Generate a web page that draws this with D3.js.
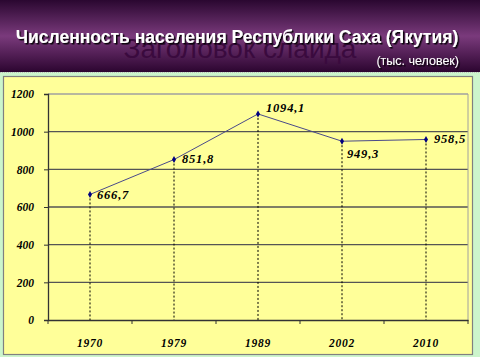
<!DOCTYPE html>
<html><head><meta charset="utf-8">
<script src="https://cdn.jsdelivr.net/npm/d3@7/dist/d3.min.js"></script>
<style>body{margin:0;padding:0;overflow:hidden;background:#ccf5cc}</style>
</head><body>
<script>
const years = ["1970","1979","1989","2002","2010"];
const population = [666.7, 851.8, 1094.1, 949.3, 958.5];
const valueLabels = ["666,7","851,8","1094,1","949,3","958,5"];
const yTicks = [0,200,400,600,800,1000,1200];
const titleText = "Численность населения Республики Саха (Якутия)";
const ghostText = "Заголовок слайда";
const unitText = "(тыс. человек)";

const W=480,H=357;
const svg=d3.select("body").append("svg").attr("width",W).attr("height",H);
const defs=svg.append("defs");
const g1=defs.append("linearGradient").attr("id","hdr").attr("x1",0).attr("y1",0).attr("x2",0).attr("y2",1);
g1.append("stop").attr("offset","0%").attr("stop-color","#2a0730");
g1.append("stop").attr("offset","50%").attr("stop-color","#7a3a7c");
g1.append("stop").attr("offset","100%").attr("stop-color","#2c0530");
const f=defs.append("filter").attr("id","sh").attr("x","-5%").attr("y","-20%").attr("width","110%").attr("height","160%");
f.append("feDropShadow").attr("dx",1.5).attr("dy",1.5).attr("stdDeviation",0.6).attr("flood-color","#000").attr("flood-opacity",0.9);

svg.append("rect").attr("width",W).attr("height",H).attr("fill","#ccf5cc");
svg.append("rect").attr("width",W).attr("height",72).attr("fill","url(#hdr)");
svg.append("line").attr("x1",0).attr("x2",W).attr("y1",72.5).attr("y2",72.5).attr("stroke","#bbb").attr("stroke-dasharray","1,1");

svg.append("text").attr("x",240).attr("y",58).attr("text-anchor","middle")
  .attr("font-family","Liberation Sans, Arial").attr("font-size",28).attr("fill","#3a0a3e").text(ghostText);
svg.append("text").attr("x",237).attr("y",43).attr("text-anchor","middle")
  .attr("font-family","Liberation Sans, Arial").attr("font-weight","bold").attr("font-size",17.5)
  .attr("fill","#fff").attr("filter","url(#sh)").text(titleText);
svg.append("text").attr("x",459).attr("y",65).attr("text-anchor","end")
  .attr("font-family","Liberation Sans, Arial").attr("font-size",12.5)
  .attr("fill","#fff").attr("filter","url(#sh)").text(unitText);

// chart box
svg.append("rect").attr("x",3.5).attr("y",76.5).attr("width",469).attr("height",278)
  .attr("fill","#ffff99").attr("stroke","#808080").attr("stroke-width",1.2);

const L=48,R=468,T=94,B=320;
const x=d3.scaleBand().domain(years).range([L,R]);
const y=d3.scaleLinear().domain([0,1200]).range([B,T]);
const serif="Times New Roman, Liberation Serif, serif";

// gridlines
svg.append("g").selectAll("line").data(yTicks.filter(d=>d>0)).join("line")
  .attr("x1",L).attr("x2",R).attr("y1",d=>y(d)).attr("y2",d=>y(d))
  .attr("stroke",d=>d===1200?"#a0a0a0":"#555").attr("stroke-width",1.3);
svg.append("line").attr("x1",R).attr("x2",R).attr("y1",T).attr("y2",B).attr("stroke","#a0a0a0").attr("stroke-width",1);

// axes
const ya=svg.append("g").attr("transform",`translate(${L},0)`).call(d3.axisLeft(y).tickValues(yTicks).tickFormat(d3.format("d")).tickSize(4).tickPadding(10));
ya.select(".domain").attr("stroke","#333").attr("stroke-width",1.3);
ya.selectAll("line").attr("stroke","#333");
ya.selectAll("text").attr("font-family",serif).attr("font-weight","bold").attr("font-style","italic").attr("font-size",11.5).attr("fill","#000");

const xa=svg.append("g").attr("transform",`translate(0,${B})`).call(d3.axisBottom(x).tickSize(0).tickPadding(19));
xa.select(".domain").attr("stroke","#333").attr("stroke-width",1.3);
xa.selectAll("text").attr("font-family",serif).attr("font-weight","bold").attr("font-style","italic").attr("font-size",11.5).attr("letter-spacing",0.8).attr("fill","#000");
const bounds=years.map(d=>x(d)).concat([R]);
xa.selectAll(".bt").data(bounds).join("line").attr("class","bt")
  .attr("x1",d=>d).attr("x2",d=>d).attr("y1",0).attr("y2",4).attr("stroke","#333");

const cx=d=>x(d)+x.bandwidth()/2;
// drop lines
svg.append("g").selectAll("line").data(years).join("line")
  .attr("x1",cx).attr("x2",cx).attr("y1",(d,i)=>y(population[i])).attr("y2",B)
  .attr("stroke","#000").attr("stroke-width",1).attr("stroke-dasharray","2,2");

// line
svg.append("path").datum(population).attr("fill","none").attr("stroke","#4a4a8a").attr("stroke-width",1)
  .attr("d",d3.line().x((d,i)=>cx(years[i])).y(d=>y(d)));
svg.append("g").selectAll("path").data(population).join("path")
  .attr("d",d3.symbol(d3.symbolDiamond,14)).attr("fill","#000080")
  .attr("transform",(d,i)=>`translate(${cx(years[i])},${y(d)})`);

const offs=[[7,5],[8,3],[8,-2],[5,17],[8,4]];
svg.append("g").selectAll("text").data(valueLabels).join("text")
  .attr("x",(d,i)=>cx(years[i])+offs[i][0]).attr("y",(d,i)=>y(population[i])+offs[i][1])
  .attr("font-family",serif).attr("font-weight","bold").attr("font-style","italic").attr("font-size",12.5)
  .attr("letter-spacing",0.8).attr("fill","#000").text(d=>d);
</script>
</body></html>
